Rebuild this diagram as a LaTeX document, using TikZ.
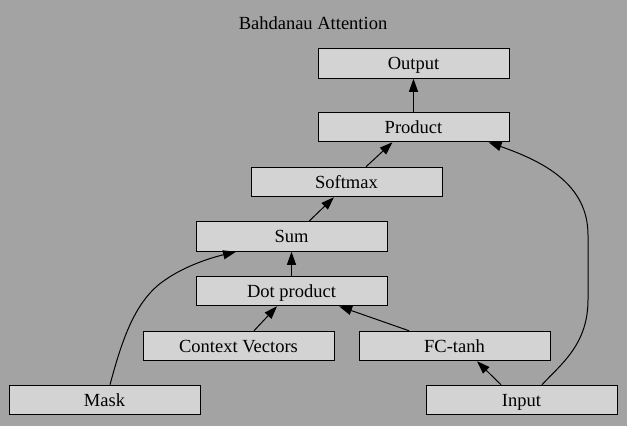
\documentclass[tikz,border=0pt]{standalone}
\usepackage{fontspec}
\setmainfont{Liberation Serif}
\usetikzlibrary{arrows.meta}
\definecolor{bggray}{HTML}{A3A3A3}
\definecolor{boxgray}{HTML}{D3D3D3}
\begin{document}
\begin{tikzpicture}[x=1pt,y=-1pt,
  box/.style={draw=black,fill=boxgray,line width=1pt,minimum width=191pt,minimum height=29.5pt,inner sep=0pt,text height=13pt,text depth=1pt,font=\fontsize{18.5}{20}\selectfont},
  edge/.style={draw=black,line width=1pt,-{Triangle[length=13pt,width=9pt]}}]
\fill[bggray] (0,0) rectangle (627,426);
\useasboundingbox (0,0) rectangle (627,426);
\node[font=\fontsize{18.5}{20}\selectfont] (title) at (313,23) {Bahdanau Attention};
\node[box] (out) at (413.5,63.5) {Output};
\node[box] (prod) at (413.5,127) {Product};
\node[box] (soft) at (346.5,182) {Softmax};
\node[box] (sum) at (291.5,236.5) {Sum};
\node[box] (dot) at (291.5,291) {Dot product};
\node[box] (ctx) at (238.5,346) {Context Vectors};
\node[box] (fc) at (454.5,346) {FC-tanh};
\node[box] (mask) at (104.5,400) {Mask};
\node[box] (inp) at (521.5,400) {Input};
\draw[edge] (prod) -- (out);
\draw[edge] ([xshift=19.5pt]soft.north) -- ([xshift=-21pt]prod.south);
\draw[edge] ([xshift=17.5pt]sum.north) -- ([xshift=-12.5pt]soft.south);
\draw[edge] (dot) -- (sum);
\draw[edge] ([xshift=15.5pt]ctx.north) -- ([xshift=-14.5pt]dot.south);
\draw[edge] ([xshift=-45.5pt]fc.north) -- ([xshift=47.5pt]dot.south);
\draw[edge] ([xshift=-20.5pt]inp.north) -- ([xshift=22.5pt]fc.south);
\draw[edge] ([xshift=5.5pt]mask.north) .. controls (122,340) and (135,300) .. (165,280) .. controls (185,266) and (210,258) .. ([xshift=-55.5pt]sum.south);
\draw[edge] ([xshift=20.5pt]inp.north) .. controls (560,365) and (588,345) .. (588,300) -- (588,235) .. controls (588,185) and (545,162) .. ([xshift=75pt]prod.south);
\end{tikzpicture}
\end{document}
